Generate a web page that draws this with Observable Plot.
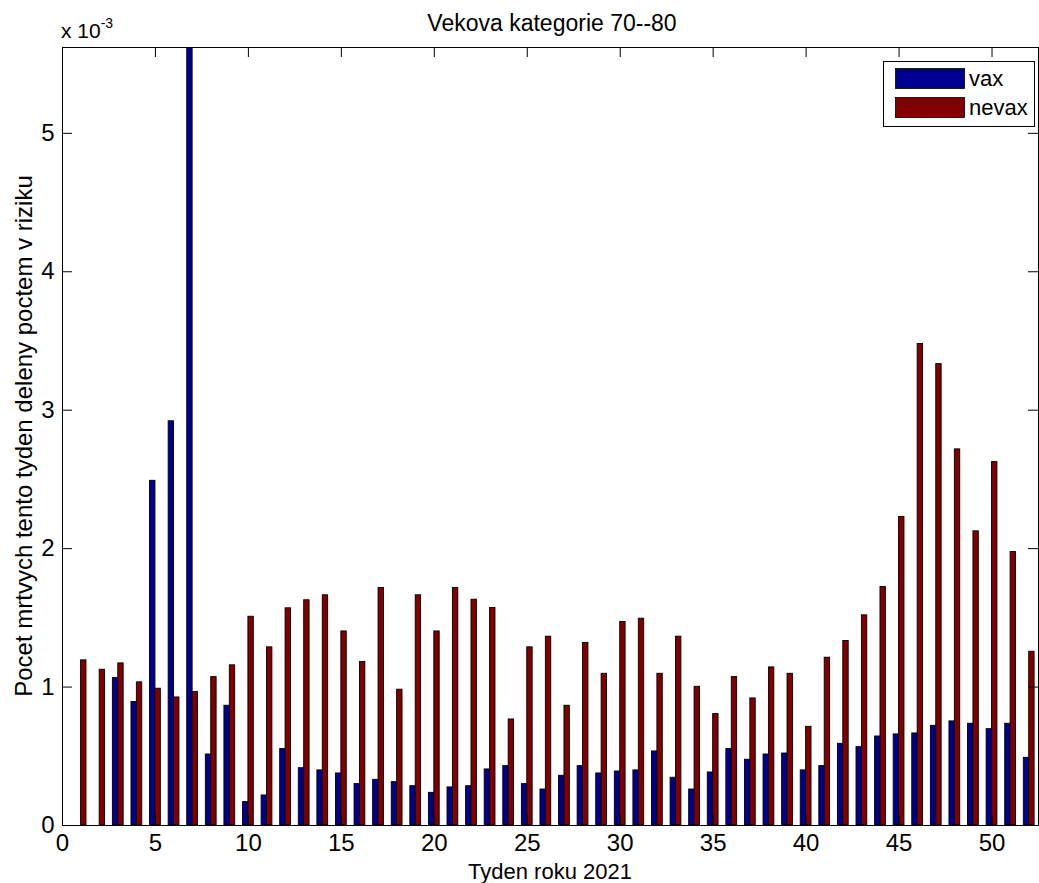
<!DOCTYPE html>
<html>
<head>
<meta charset="utf-8">
<script src="https://cdn.jsdelivr.net/npm/d3@7"></script>
<script src="https://cdn.jsdelivr.net/npm/@observablehq/plot@0.6"></script>
<style>
  html, body { margin: 0; padding: 0; background: #fff; }
  #chart { position: relative; width: 1039px; height: 883px; }
</style>
</head>
<body>
<div id="chart"></div>
<script>
// ---- data (values in units of 1e-3) ----
const weeks = d3.range(1, 53);
const vax = [0, 0, 1.065, 0.892, 2.49, 2.92, 5.62, 0.513, 0.865, 0.169,
  0.217, 0.552, 0.414, 0.398, 0.376, 0.299, 0.330, 0.313, 0.284, 0.236,
  0.275, 0.284, 0.405, 0.429, 0.299, 0.260, 0.359, 0.429, 0.376, 0.390,
  0.398, 0.535, 0.345, 0.260, 0.383, 0.552, 0.475, 0.513, 0.520, 0.398,
  0.429, 0.590, 0.566, 0.643, 0.658, 0.665, 0.720, 0.752, 0.735, 0.696,
  0.735, 0.489];
const nevax = [1.193, 1.125, 1.171, 1.034, 0.988, 0.925, 0.964, 1.072, 1.157, 1.508,
  1.287, 1.569, 1.627, 1.663, 1.402, 1.181, 1.716, 0.981, 1.663, 1.402,
  1.716, 1.631, 1.571, 0.766, 1.287, 1.364, 0.865, 1.318, 1.096, 1.470,
  1.494, 1.096, 1.364, 1.002, 0.805, 1.072, 0.918, 1.142, 1.096, 0.713,
  1.212, 1.333, 1.518, 1.723, 2.229, 3.478, 3.333, 2.717, 2.125, 2.625,
  1.976, 1.255];
const seriesNames = ["vax", "nevax"];
const seriesColors = ["#00008f", "#800000"];
const xTicks = [0, 5, 10, 15, 20, 25, 30, 35, 40, 45, 50];
const yTicks = [0, 1, 2, 3, 4, 5];
const xDomain = [0, 52.5];
const yDomain = [0, 5.62];
const titleText = "Vekova kategorie 70--80";
const xLabel = "Tyden roku 2021";
const yLabel = "Pocet mrtvych tento tyden deleny poctem v riziku";

// ---- table for the library ----
const rows = weeks.flatMap((w, i) => [
  {week: w, series: "vax", value: vax[i]},
  {week: w, series: "nevax", value: nevax[i]}
]);

// grouped bar geometry: offset and half width in week units
const halfBar = 0.145;
const offs = {vax: -0.145, nevax: 0.145};

const W = 1039, H = 883, mT = 47, mR = 1, mB = 58, mL = 62;
const innerW = W - mL - mR, innerH = H - mT - mB;
const font = "Arial, 'Liberation Sans', Helvetica, sans-serif";

const plot = Plot.plot({
  width: W, height: H,
  marginTop: mT, marginRight: mR, marginBottom: mB, marginLeft: mL,
  style: {fontFamily: font, fontSize: "22px", color: "#000", background: "#fff"},
  x: {domain: xDomain, label: null},
  y: {domain: yDomain, label: null},
  color: {domain: seriesNames, range: seriesColors},
  marks: [
    Plot.rectY(rows, {
      x1: d => d.week + offs[d.series] - halfBar,
      x2: d => d.week + offs[d.series] + halfBar,
      y1: 0, y2: "value",
      fill: "series", stroke: "#000", strokeWidth: 0.9, clip: true
    }),
    // inward ticks on all four sides
    Plot.tickX(xTicks, {x: d => d, insetTop: innerH - 10, stroke: "#000"}),
    Plot.tickX(xTicks, {x: d => d, insetBottom: innerH - 10, stroke: "#000"}),
    Plot.tickY(yTicks, {y: d => d, insetRight: innerW - 10, stroke: "#000"}),
    Plot.tickY(yTicks, {y: d => d, insetLeft: innerW - 10, stroke: "#000"}),
    Plot.axisX(xTicks, {anchor: "bottom", tickSize: 0, tickPadding: 8, tickFormat: d => String(d), label: null, fontSize: 24}),
    Plot.axisY(yTicks, {anchor: "left", tickSize: 0, tickPadding: 8, tickFormat: d => String(d), label: null, fontSize: 24}),
    Plot.frame({stroke: "#000"})
  ]
});
document.getElementById("chart").appendChild(plot);

// ---- texts & legend ----
const svg = d3.select(plot);
svg.append("text").attr("x", 552).attr("y", 31).attr("text-anchor", "middle")
  .style("font-size", "23px").style("font-family", font).attr("fill", "#000").text(titleText);
svg.append("text").attr("x", (mL + W - mR) / 2).attr("y", 879).attr("text-anchor", "middle")
  .style("font-size", "22px").style("font-family", font).attr("fill", "#000").text(xLabel);
svg.append("text").attr("transform", `translate(32,${mT + innerH / 2}) rotate(-90)`).attr("text-anchor", "middle")
  .style("font-size", "24px").style("font-family", font).attr("fill", "#000").text(yLabel);
const mult = svg.append("text").attr("x", 61).attr("y", 38).attr("text-anchor", "start")
  .style("font-size", "21px").style("font-family", font).attr("fill", "#000");
mult.append("tspan").text("x 10");
mult.append("tspan").attr("dy", -10).style("font-size", "14px").text("-3");

// legend
const lg = svg.append("g");
lg.append("rect").attr("x", 883.5).attr("y", 61.5).attr("width", 151).attr("height", 65)
  .attr("fill", "#fff").attr("stroke", "#000").attr("stroke-width", 1);
seriesNames.forEach((name, i) => {
  const y0 = 68 + i * 29;
  lg.append("rect").attr("x", 895.5).attr("y", y0 + 0.5).attr("width", 69).attr("height", 20)
    .attr("fill", seriesColors[i]).attr("stroke", "#000").attr("stroke-width", 0.8);
  lg.append("text").attr("x", 969).attr("y", y0 + 18).attr("text-anchor", "start")
    .style("font-size", "22px").style("font-family", font).attr("fill", "#000").text(name);
});
</script>
</body>
</html>
